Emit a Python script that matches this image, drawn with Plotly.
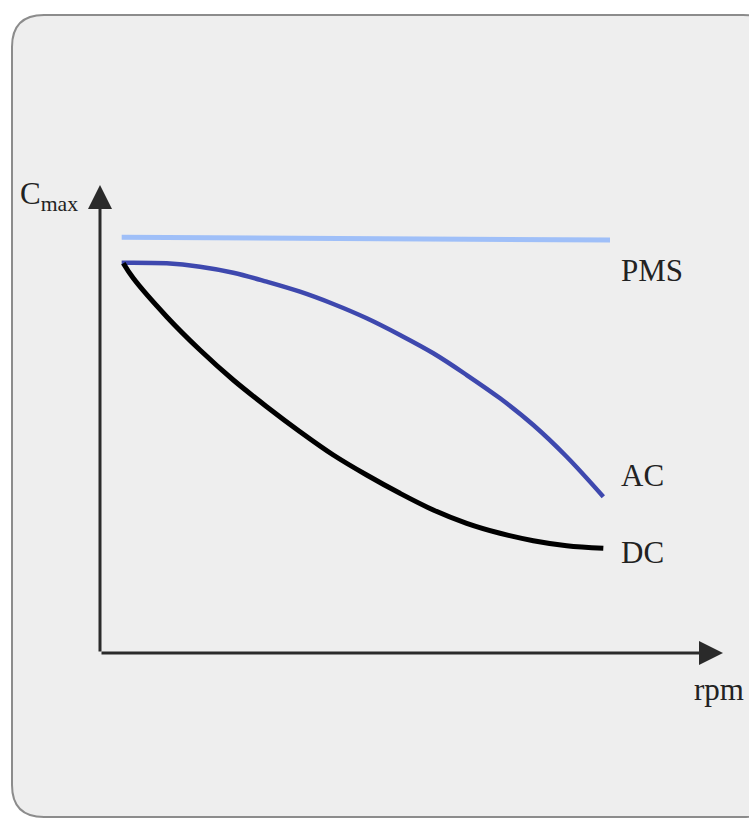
import plotly.graph_objects as go

# ---- data (arbitrary units: rpm 0..10, Cmax 0..10) ----
pms_rpm = [0.348, 8.186]
pms_cmax = [8.882, 8.825]

ac_rpm = [0.348, 1.071, 1.605, 2.140, 2.676, 3.210, 3.745, 4.281, 4.815,
          5.350, 5.886, 6.421, 6.955, 7.491, 8.079]
ac_cmax = [8.340, 8.327, 8.254, 8.126, 7.934, 7.720, 7.457, 7.152, 6.795,
           6.404, 5.940, 5.442, 4.872, 4.194, 3.340]

dc_rpm = [0.374, 0.535, 1.071, 1.605, 2.140, 2.676, 3.210, 3.745, 4.281,
          4.815, 5.350, 5.886, 6.421, 6.955, 7.491, 8.079]
dc_cmax = [8.327, 8.006, 7.186, 6.474, 5.833, 5.263, 4.729, 4.231, 3.803,
           3.412, 3.056, 2.771, 2.558, 2.400, 2.293, 2.237]

labels = ["PMS", "AC", "DC"]
axis_x_label = "rpm"
axis_y_label = "C<sub>max</sub>"
axis_end = 10

W, H = 749, 818
X0, Y0 = 100, 653          # pixel of origin
SX, SY = 62.3, 46.8        # pixels per unit

xr = [(0 - X0) / SX, (W - X0) / SX]
yr = [(Y0 - H) / SY, (Y0 - 0) / SY]


def px(p):
    return (p - X0) / SX


def py(p):
    return (Y0 - p) / SY


serif = "Liberation Serif, Times New Roman, serif"

fig = go.Figure()

fig.add_trace(go.Scatter(x=pms_rpm, y=pms_cmax, mode="lines",
                         line=dict(color="#9fbff8", width=5), hoverinfo="skip"))
fig.add_trace(go.Scatter(x=ac_rpm, y=ac_cmax, mode="lines", line_shape="spline",
                         line=dict(color="#3e48ae", width=4.5, smoothing=1.0), hoverinfo="skip"))
fig.add_trace(go.Scatter(x=dc_rpm, y=dc_cmax, mode="lines", line_shape="spline",
                         line=dict(color="#000000", width=5, smoothing=1.0), hoverinfo="skip"))

# rounded panel
L, T, R, B, r = 12, 15, 775, 817, 32
path = (f"M {px(L)},{py(T + r)} "
        f"Q {px(L)},{py(T)} {px(L + r)},{py(T)} "
        f"L {px(R - r)},{py(T)} "
        f"Q {px(R)},{py(T)} {px(R)},{py(T + r)} "
        f"L {px(R)},{py(B - r)} "
        f"Q {px(R)},{py(B)} {px(R - r)},{py(B)} "
        f"L {px(L + r)},{py(B)} "
        f"Q {px(L)},{py(B)} {px(L)},{py(B - r)} Z")
fig.add_shape(type="path", path=path, xref="x", yref="y", layer="below",
              fillcolor="#eeeeee", line=dict(color="#8c8c8c", width=2))

axis_color = "#2a2a2a"
fig.add_annotation(x=axis_end, y=0, ax=0, ay=0, xref="x", yref="y", axref="x", ayref="y",
                   text="", showarrow=True, arrowhead=2, arrowsize=1.6, arrowwidth=3,
                   arrowcolor=axis_color)
fig.add_annotation(x=0, y=axis_end, ax=0, ay=0, xref="x", yref="y", axref="x", ayref="y",
                   text="", showarrow=True, arrowhead=2, arrowsize=1.6, arrowwidth=3,
                   arrowcolor=axis_color)

font = dict(family=serif, size=31, color="#222222")

fig.add_annotation(x=pms_rpm[-1], y=pms_cmax[-1], text=labels[0], showarrow=False,
                   xanchor="left", yanchor="middle", xshift=9, yshift=-31, font=font)
fig.add_annotation(x=ac_rpm[-1], y=ac_cmax[-1], text=labels[1], showarrow=False,
                   xanchor="left", yanchor="middle", xshift=16, yshift=21, font=font)
fig.add_annotation(x=dc_rpm[-1], y=dc_cmax[-1], text=labels[2], showarrow=False,
                   xanchor="left", yanchor="middle", xshift=16, yshift=-4, font=font)

fig.add_annotation(x=axis_end, y=0, text=axis_x_label, showarrow=False,
                   xanchor="center", yanchor="top", xshift=-4, yshift=-17, font=font)
fig.add_annotation(x=0, y=axis_end, text=axis_y_label, showarrow=False,
                   xanchor="right", yanchor="top", xshift=-20, yshift=11, font=font)

fig.update_layout(
    width=W, height=H,
    margin=dict(l=0, r=0, t=0, b=0),
    paper_bgcolor="white", plot_bgcolor="rgba(0,0,0,0)",
    showlegend=False,
    xaxis=dict(range=xr, visible=False, fixedrange=True),
    yaxis=dict(range=yr, visible=False, fixedrange=True),
)

fig.write_html(
    "out.html",
    config={"displayModeBar": False},
    post_script="document.body.style.margin='0';document.body.style.overflow='hidden';",
)
